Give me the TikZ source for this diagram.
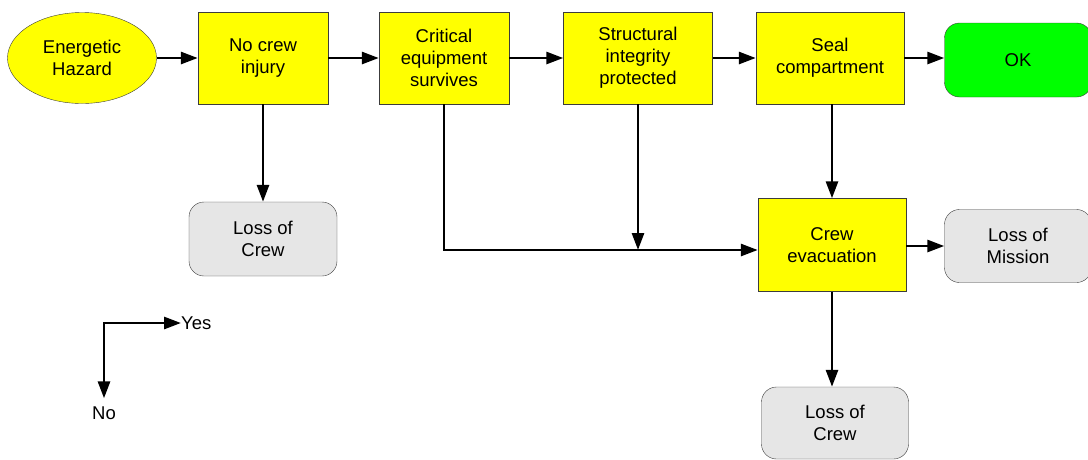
\documentclass[tikz,border=0pt]{standalone}
\usepackage{fontspec}
\setmainfont{Liberation Sans}
\usetikzlibrary{arrows.meta,shapes.geometric}
\definecolor{boxyellow}{RGB}{255,255,0}
\definecolor{okgreen}{RGB}{0,255,0}
\definecolor{lossgray}{RGB}{230,230,230}
\definecolor{edgegray}{RGB}{60,60,60}

\tikzset{
  txt/.style={font=\fontsize{18.5}{22}\selectfont, align=center, inner sep=0pt},
  barrier/.style={txt, draw=edgegray, fill=boxyellow, rectangle},
  endstate/.style={txt, draw=edgegray, rounded corners=15pt},
  arr/.style={line width=2.8pt, -{Triangle[length=17pt,width=12pt]}},
  twoarr/.style={line width=2.8pt, {Triangle[length=17pt,width=12pt]}-{Triangle[length=17pt,width=12pt]}}
}

\begin{document}
\begin{tikzpicture}[x=1pt,y=-1pt]
\useasboundingbox (0,0) rectangle (1088,459);

% start
\node[txt, ellipse, draw=edgegray, fill=boxyellow, minimum width=149pt, minimum height=91pt] (hazard) at (82,58) {Energetic\\Hazard};

% barreiras
\node[barrier, minimum width=130pt, minimum height=92pt] (injury) at (263,58) {No crew\\injury};
\node[barrier, minimum width=130pt, minimum height=92pt] (equip) at (444,58) {Critical\\equipment\\survives};
\node[barrier, minimum width=149pt, minimum height=92pt] (struct) at (638,58) {Structural\\integrity\\protected};
\node[barrier, minimum width=148pt, minimum height=92pt] (seal) at (830,58) {Seal\\compartment};
\node[barrier, minimum width=148pt, minimum height=93pt] (evac) at (832,245) {Crew\\evacuation};

% end states
\node[endstate, fill=okgreen, minimum width=147pt, minimum height=74pt] (ok) at (1018,60) {OK};
\node[endstate, fill=lossgray, minimum width=148pt, minimum height=74pt] (crewA) at (263,239) {Loss of\\Crew};
\node[endstate, fill=lossgray, minimum width=147pt, minimum height=73pt] (mission) at (1018,246) {Loss of\\Mission};
\node[endstate, fill=lossgray, minimum width=147pt, minimum height=72pt] (crewB) at (835,423) {Loss of\\Crew};

% yes path
\draw[arr] (hazard) -- (injury);
\draw[arr] (injury) -- (equip);
\draw[arr] (equip) -- (struct);
\draw[arr] (struct) -- (seal);
\draw[arr] (seal.east) -- (seal.east -| ok.west);
\draw[arr] (evac.east |- mission) -- (mission.west);

% no path
\coordinate (join) at (638,250);
\draw[arr] (injury.south) -- (crewA.north);
\draw[arr] (equip.south) |- (evac.west |- join);
\draw[arr] (struct.south) -- (join);
\draw[arr] (evac.north |- seal.south) -- (evac.north);
\draw[arr] (evac.south) -- (evac.south |- crewB.north);

% legend
\node[txt, anchor=west] (yes) at (181,323) {Yes};
\node[txt] (no) at (104,413) {No};
\draw[twoarr] (yes.west) -| ([yshift=8pt]no.north);

\end{tikzpicture}
\end{document}
